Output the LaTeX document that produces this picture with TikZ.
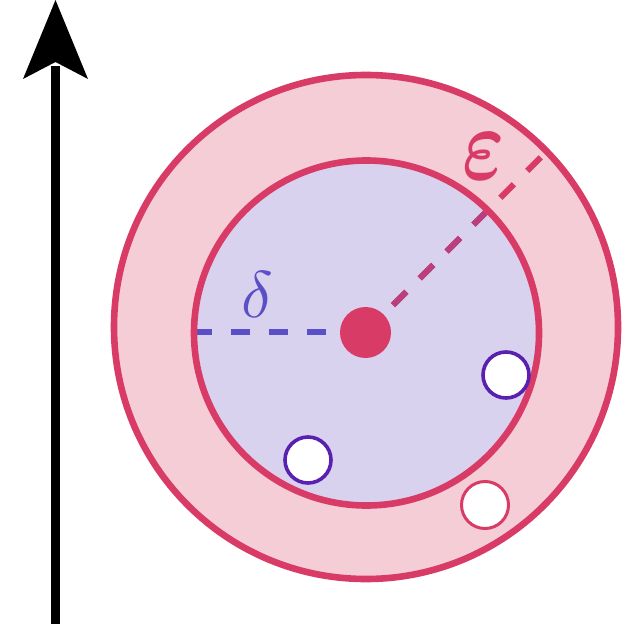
\documentclass[tikz,border=0pt]{standalone}
\definecolor{crim}{HTML}{D93B67}
\definecolor{pinkf}{HTML}{F5CDD7}
\definecolor{lavf}{HTML}{D9D2EF}
\definecolor{blueln}{HTML}{5B4FC7}
\definecolor{purp}{HTML}{5A20B0}
\definecolor{epsmix}{HTML}{B9407F}
\tikzset{
  dashln/.style={line width=3pt, dash pattern=on 9.5pt off 9.5pt},
  ring/.style={line width=3.3pt},
  particle/.style={fill=white, line width=1.8pt},
}
\begin{document}
\begin{tikzpicture}[x=0.5pt,y=-0.5pt]
\useasboundingbox (0,0) rectangle (621,624);
% axis arrow
\coordinate (abot) at (55.5,624);
\coordinate (atop) at (55.5,66);
\draw[line width=4.2pt] (abot) -- (atop);
\fill (55.5,0) -- (88,79) -- (55.5,62) -- (23,79) -- cycle;
% outer circle
\coordinate (ci) at (366.5,333);
\coordinate (cc) at (366,332);
\coordinate (eend) at (543.5,154.5);
\coordinate (dstart) at (193,332);
\filldraw[fill=pinkf, draw=crim, ring] (366,327) circle[radius=252];
% inner fill
\fill[lavf] (ci) circle[radius=172.5];
% epsilon line
\draw[crim, dashln] (cc) -- (eend);
\begin{scope}
\clip (ci) circle[radius=172.5];
\draw[epsmix, dashln] (cc) -- (eend);
\end{scope}
% delta line
\draw[blueln, dashln] (dstart) -- (cc);
% inner stroke
\draw[crim, ring] (ci) circle[radius=172.5];
% center dot
\fill[crim] (365.5,332.5) circle[radius=25.5];
% particles
\draw[particle, draw=purp] (506,375) circle[radius=23];
\draw[particle, draw=purp] (308,460) circle[radius=23];
\draw[particle, draw=crim, line width=1.5pt] (485,505) circle[radius=23.5];
% labels
\node[inner sep=0, text=blueln, scale=3.3] (dl) at (257.5,295) {$\delta$};
\node[inner sep=0, text=crim, xscale=4.0, yscale=5.2, font=\boldmath] (el) at (484,156) {$\varepsilon$};
\end{tikzpicture}
\end{document}
